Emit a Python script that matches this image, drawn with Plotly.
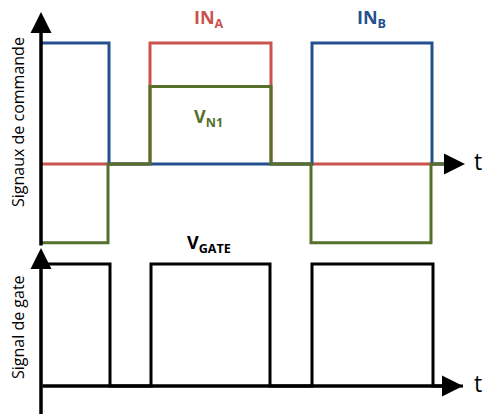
import plotly.graph_objects as go
from plotly.subplots import make_subplots

# temps des fronts (unités arbitraires)
t_in_a = [0, 109, 230, 412]
in_a = [0, 1, 0, 0]
t_in_b = [0, 68, 271, 391, 412]
in_b = [1, 0, 1, 0, 0]
t_vn1 = [0, 67, 109, 230, 270, 390, 412]
v_n1 = [-0.65, 0, 0.64, 0, -0.65, 0, 0]
t_gate = [0, 69, 110, 229, 271, 392, 422]
v_gate = [1, 0, 1, 0, 1, 0, 0]

RED = "#C9534F"
BLUE = "#25508F"
GREEN = "#55702B"
FONT = "Open Sans"

W, H = 485, 414

fig = make_subplots(rows=2, cols=1, shared_xaxes=True, vertical_spacing=0)

fig.add_trace(go.Scatter(x=t_in_a, y=in_a, mode="lines", line_shape="hv",
                         line=dict(color=RED, width=3)), row=1, col=1)
fig.add_trace(go.Scatter(x=t_in_b, y=in_b, mode="lines", line_shape="hv",
                         line=dict(color=BLUE, width=3)), row=1, col=1)
fig.add_trace(go.Scatter(x=t_vn1, y=v_n1, mode="lines", line_shape="hv",
                         line=dict(color=GREEN, width=3)), row=1, col=1)
fig.add_trace(go.Scatter(x=t_gate, y=v_gate, mode="lines", line_shape="hv",
                         line=dict(color="black", width=3)), row=2, col=1)

# axes avec flèches
def arrow(x, y, ax, ay, xref, yref):
    fig.add_annotation(x=x, y=y, ax=ax, ay=ay, xref=xref, yref=yref,
                       axref=xref, ayref=yref, text="", showarrow=True,
                       arrowhead=2, arrowsize=1.2, arrowwidth=3.5,
                       arrowcolor="black", standoff=0)

# en haut, l'axe t n'est que la pointe : les signaux forment la ligne
arrow(424, 0, 411, 0, "x", "y")
arrow(0, 1.256, 0, -0.685, "x", "y")
arrow(422, 0, 0, 0, "x2", "y2")
arrow(0, 1.131, 0, -0.25, "x2", "y2")

def label(px, py, text, color, size=18, bold=True, angle=0):
    fig.add_annotation(x=px / W, y=1 - py / H,
                       xref="paper", yref="paper",
                       xanchor="center", yanchor="middle",
                       text=f"<b>{text}</b>" if bold else text,
                       showarrow=False, textangle=angle,
                       font=dict(family=FONT, size=size, color=color))

label(209, 19, "IN<sub>A</sub>", RED)
label(371, 19, "IN<sub>B</sub>", BLUE)
label(208, 118, "V<sub>N1</sub>", GREEN)
label(209, 244, "V<sub>GATE</sub>", "black")
label(478, 161, "t", "black", size=23, bold=False)
label(478, 383, "t", "black", size=23, bold=False)
label(18, 122, "Signaux de commande", "black", size=16, bold=False, angle=-90)
label(18, 327, "Signal de gate", "black", size=16, bold=False, angle=-90)

# domaines en pixels de l'image de référence
split = 1 - 247 / H
fig.update_xaxes(range=[-41, W - 41], visible=False)
fig.update_yaxes(visible=False)
fig.update_layout(
    width=W, height=H,
    margin=dict(l=0, r=0, t=0, b=0),
    showlegend=False,
    plot_bgcolor="white", paper_bgcolor="white",
    yaxis=dict(domain=[split, 1], range=[-(247 - 164) / 121, 164 / 121]),
    yaxis2=dict(domain=[0, split], range=[-(414 - 386) / 122, (386 - 247) / 122]),
)

fig.write_html("out.html", config={"displayModeBar": False},
               post_script="document.body.style.margin='0';")
